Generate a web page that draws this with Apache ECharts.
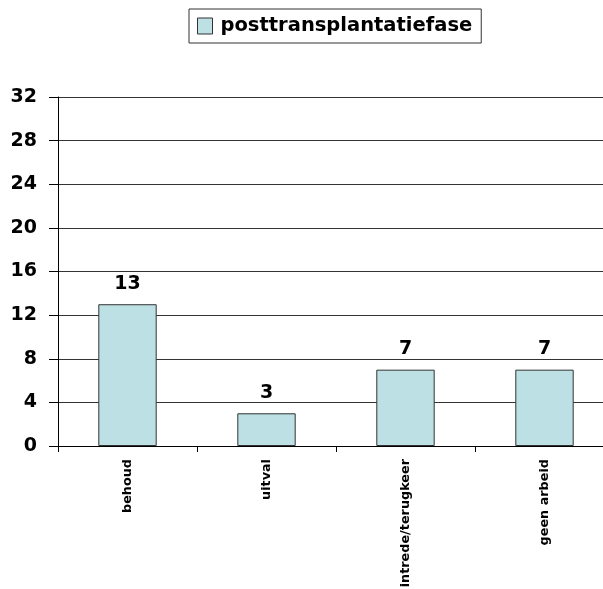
<!DOCTYPE html>
<html>
<head>
<meta charset="utf-8">
<style>
  html, body { margin: 0; padding: 0; background: #fff; }
  #chart { width: 603px; height: 589px; }
</style>
<script src="https://cdn.jsdelivr.net/npm/echarts@6/dist/echarts.min.js"></script>
</head>
<body>
<div id="chart"></div>
<script>
// Outcome categories and counts in the post-transplant phase
const categories = ['behoud', 'uitval', 'intrede/terugkeer', 'geen arbeid'];
const seriesName = 'posttransplantatiefase';
const values = [13, 3, 7, 7];
const yTicks = [0, 4, 8, 12, 16, 20, 24, 28, 32];

const font = '"DejaVu Sans", Verdana, sans-serif';

const chart = echarts.init(document.getElementById('chart'), null, { renderer: 'canvas' });
chart.setOption({
  animation: false,
  backgroundColor: '#ffffff',
  legend: {
    data: [seriesName],
    left: 189,
    top: 9,
    padding: [7, 9, 7, 8],
    itemGap: 0,
    itemWidth: 15,
    itemHeight: 16,
    icon: 'rect',
    borderColor: '#333',
    borderWidth: 1,
    textStyle: { fontFamily: font, fontWeight: 'bold', fontSize: 19.5, color: '#000', padding: [0, 0, 0, 3] },
    itemStyle: { borderColor: '#333', borderWidth: 1 }
  },
  grid: { left: 58, top: 97, width: 556, height: 349, containLabel: false, outerBoundsMode: 'none' },
  xAxis: {
    type: 'category',
    data: categories,
    axisLine: { lineStyle: { color: '#000', width: 1 } },
    axisTick: { show: true, length: 6, inside: false, lineStyle: { color: '#000' } },
    axisLabel: {
      rotate: 90,
      margin: 13,
      fontFamily: font,
      fontWeight: 'bold',
      fontSize: 12.8,
      color: '#000'
    }
  },
  yAxis: {
    type: 'value',
    min: yTicks[0],
    max: yTicks[yTicks.length - 1],
    interval: 4,
    axisLine: { show: true, lineStyle: { color: '#000', width: 1 } },
    axisTick: { show: true, length: 9, lineStyle: { color: '#000' } },
    splitLine: { show: true, lineStyle: { color: '#333', width: 1 } },
    axisLabel: {
      margin: 21,
      fontFamily: font,
      fontWeight: 'bold',
      fontSize: 19,
      color: '#000'
    }
  },
  series: [{
    name: seriesName,
    type: 'bar',
    data: values,
    barWidth: '42%',
    itemStyle: { color: '#BCE0E3', borderColor: '#333', borderWidth: 1 },
    label: {
      show: true,
      position: 'top',
      distance: 11,
      fontFamily: font,
      fontWeight: 'bold',
      fontSize: 19,
      color: '#000'
    }
  }]
});
</script>
</body>
</html>
